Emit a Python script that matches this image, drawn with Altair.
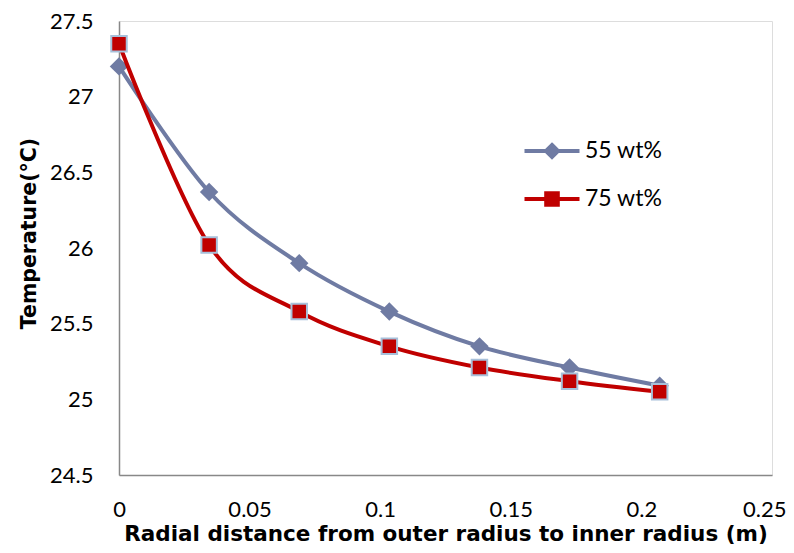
import altair as alt
import pandas as pd

# ---- data ----
distance = [0, 0.0345, 0.069, 0.1035, 0.138, 0.1725, 0.207]
temp_55 = [27.2, 26.37, 25.9, 25.58, 25.35, 25.21, 25.09]
temp_75 = [27.35, 26.02, 25.58, 25.35, 25.21, 25.12, 25.05]
series_names = ["55 wt%", "75 wt%"]
x_ticks = [0, 0.05, 0.1, 0.15, 0.2, 0.25]
y_ticks = [24.5, 25, 25.5, 26, 26.5, 27, 27.5]

# ---- styling ----
FONT = "Lato"
TITLE_FONT = "DejaVu Sans"
COL_55 = "#6F7BA3"
COL_75 = "#C00000"
EDGE_75 = "#A7C0DA"
AXIS_COL = "#888888"

rows = []
for name, vals in zip(series_names, [temp_55, temp_75]):
    for d, t in zip(distance, vals):
        rows.append({"series": name, "distance": d, "temp": t})
df = pd.DataFrame(rows)

last_x = "datum.value >= 0.249"
x_enc = alt.X(
    "distance:Q",
    scale=alt.Scale(domain=[0, 0.25], nice=False, zero=False),
    axis=alt.Axis(
        values=x_ticks, format=".2~f",
        title="Radial distance from outer radius to inner radius (m)",
        labelFontSize=22, titleFontSize=21.5, titleFontWeight="bold",
        labelFont=FONT, titleFont=TITLE_FONT, labelColor="black", titleColor="black",
        ticks=False, tickSize=0, grid=False, domainColor=AXIS_COL, domainWidth=1.5,
        labelPadding=24, titlePadding=3, labelFlush=False,
        labelAlign={"condition": {"test": last_x, "value": "right"}, "value": "center"},
        labelOffset={"condition": {"test": last_x, "value": 14}, "value": 0},
    ),
)
y_enc = alt.Y(
    "temp:Q",
    scale=alt.Scale(domain=[24.5, 27.5], nice=False, zero=False),
    axis=alt.Axis(
        values=y_ticks, format=".1~f",
        title="Temperature(°C)",
        labelFontSize=22, titleFontSize=20.5, titleFontWeight="bold",
        labelFont=FONT, titleFont=TITLE_FONT, labelColor="black", titleColor="black",
        ticks=False, tickSize=0, grid=False, domainColor=AXIS_COL, domainWidth=1.5,
        labelPadding=26, titlePadding=10, titleY=212,
    ),
)

base = alt.Chart(df).encode(x=x_enc, y=y_enc)

line55 = base.transform_filter(alt.datum.series == series_names[0]).mark_line(
    interpolate="cardinal", strokeWidth=4, color=COL_55)
pts55 = base.transform_filter(alt.datum.series == series_names[0]).mark_point(
    shape="diamond", size=340, filled=True, color=COL_55, opacity=1)
line75 = base.transform_filter(alt.datum.series == series_names[1]).mark_line(
    interpolate="cardinal", strokeWidth=4, color=COL_75)
pts75 = base.transform_filter(alt.datum.series == series_names[1]).mark_point(
    shape="square", size=240, filled=True, fill=COL_75, stroke=EDGE_75,
    strokeWidth=2, opacity=1)

legend_kw = dict(
    title=None, orient="none", legendX=421, legendY=118, padding=0,
    symbolSize=400, symbolStrokeWidth=4, symbolOpacity=1,
    labelOffset=21, labelFontSize=23, labelFont=FONT, labelColor="black",
    rowPadding=20, labelLimit=0,
)
diamond_path = "M-2.75,0H2.75M0,-0.6L0.6,0L0,0.6L-0.6,0Z"
square_path = "M-2.75,0H2.75M-0.58,-0.58H0.58V0.58H-0.58Z"

legend_layer = base.mark_point(filled=True, opacity=0).encode(
    fill=alt.Fill("series:N", scale=alt.Scale(domain=series_names, range=[COL_55, COL_75]),
                  legend=alt.Legend(**legend_kw)),
    stroke=alt.Stroke("series:N", scale=alt.Scale(domain=series_names, range=[COL_55, COL_75]),
                      legend=alt.Legend(**legend_kw)),
    shape=alt.Shape("series:N", scale=alt.Scale(domain=series_names, range=[diamond_path, square_path]),
                    legend=alt.Legend(**legend_kw)),
)

chart = alt.layer(line55, pts55, line75, pts75, legend_layer).properties(
    width=653, height=454,
    autosize=alt.AutoSizeParams(type="none"),
    padding={"left": 111, "top": 13, "right": 14, "bottom": 70},
).configure_view(stroke=None).configure(background="white")

chart.save("out.html", embed_options={"renderer": "svg", "actions": False})
